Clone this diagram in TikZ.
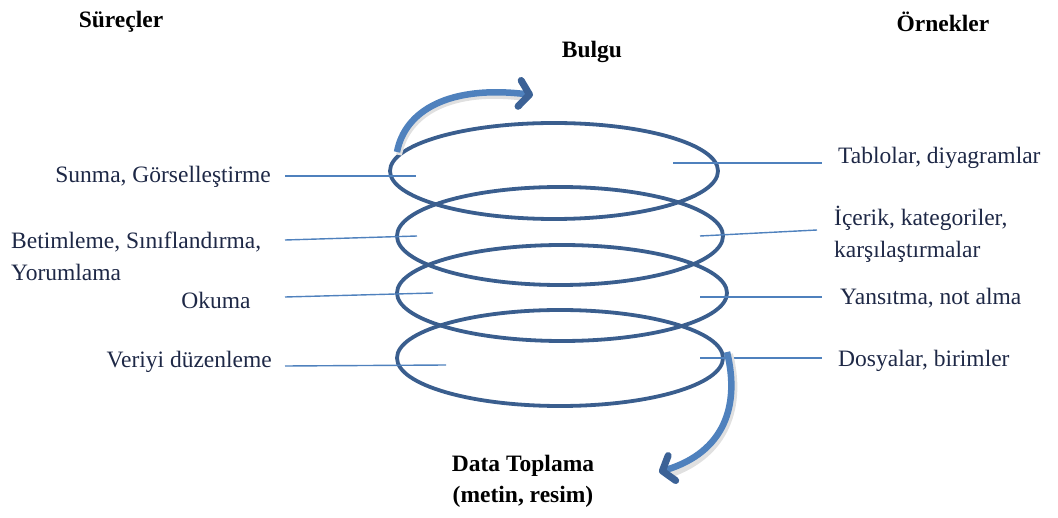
\documentclass[tikz,border=0pt]{standalone}
\usepackage{fontspec}
\setmainfont{Liberation Serif}
\usetikzlibrary{arrows.meta}
\definecolor{coil}{RGB}{58,94,142}
\definecolor{arrowblue}{RGB}{79,129,189}
\definecolor{tipblue}{RGB}{60,98,150}
\definecolor{leader}{RGB}{79,129,189}
\definecolor{labeltext}{RGB}{30,40,70}
\begin{document}
\begin{tikzpicture}[x=1pt,y=-1pt,
  every node/.style={inner sep=0pt, font=\fontsize{23.5}{32}\selectfont},
  label/.style={text=labeltext},
  header/.style={text=black, font=\fontsize{23.5}{31}\selectfont\bfseries},
  ring/.style={draw=coil, line width=3.8pt},
  leaderline/.style={draw=leader, line width=1.4pt},
  flow/.style={draw=arrowblue, line width=6.5pt,
    -{Straight Barb[length=10pt, width=26pt, line width=7pt, round, color=tipblue]}},
  flowshadow/.style={draw=black!12, line width=6pt}]
\useasboundingbox (0,0) rectangle (1058,518);

% headers
\node[header] (surecler) at (121,22) {Süreçler};
\node[header] (ornekler) at (943,22) {Örnekler};
\node[header] (bulgu) at (592,52) {Bulgu};
\node[header, align=center] (data) at (523,481) {Data Toplama\\(metin, resim)};

% the coil of four rings
\draw[ring] (554,171) ellipse [x radius=164, y radius=48];
\draw[ring] (560,236) ellipse [x radius=163, y radius=49];
\draw[ring] (562,293) ellipse [x radius=165, y radius=48];
\draw[ring] (560,358) ellipse [x radius=163, y radius=48];

% processes (left)
\node[label, anchor=east] (sunma) at (271,177) {Sunma, Görselleştirme};
\node[label, anchor=west, align=left] (betim) at (11,256) {Betimleme, Sınıflandırma,\\Yorumlama};
\node[label] (okuma) at (216,300) {Okuma};
\node[label, anchor=east] (veri) at (272,362) {Veriyi düzenleme};

% examples (right)
\node[label, anchor=west] (tablo) at (838,158) {Tablolar, diyagramlar};
\node[label, anchor=west, align=left] (icerik) at (834,234) {İçerik, kategoriler,\\karşılaştırmalar};
\node[label, anchor=west] (yansit) at (840,298) {Yansıtma, not alma};
\node[label, anchor=west] (dosya) at (838,361) {Dosyalar, birimler};

% leader line ends
\coordinate (l1a) at (285,176);  \coordinate (l1b) at (416,176);
\coordinate (l2a) at (285,240);  \coordinate (l2b) at (417,236);
\coordinate (l3a) at (285,297);  \coordinate (l3b) at (433,293);
\coordinate (l4a) at (285,366);  \coordinate (l4b) at (446,365);
\coordinate (r1a) at (673,163);  \coordinate (r1b) at (822,163);
\coordinate (r2a) at (700,236);  \coordinate (r2b) at (817,230);
\coordinate (r3a) at (700,297);  \coordinate (r3b) at (822,297);
\coordinate (r4a) at (700,358);  \coordinate (r4b) at (822,358);

\draw[leaderline] (l1a) -- (l1b);
\draw[leaderline] (l2a) -- (l2b);
\draw[leaderline] (l3a) -- (l3b);
\draw[leaderline] (l4a) -- (l4b);
\draw[leaderline] (r1a) -- (r1b);
\draw[leaderline] (r2a) -- (r2b);
\draw[leaderline] (r3a) -- (r3b);
\draw[leaderline] (r4a) -- (r4b);

% flow arrows: out of the top ring towards the finding, and from the data into the bottom ring
\coordinate (topstart) at (397,152);
\coordinate (topend) at (533,95);
\coordinate (botstart) at (727,352);
\coordinate (botend) at (659,472);

\draw[flowshadow] ([shift={(2,3)}]topstart) .. controls (407,113) and (452,88) .. ([shift={(-8,3)}]topend);
\draw[flow] (topstart) .. controls (405,110) and (450,85) .. (topend);

\draw[flowshadow] ([shift={(3,2)}]botstart) .. controls (743,405) and (728,455) .. ([shift={(10,3)}]botend);
\draw[flow] (botstart) .. controls (740,405) and (725,452) .. (botend);
\end{tikzpicture}
\end{document}
